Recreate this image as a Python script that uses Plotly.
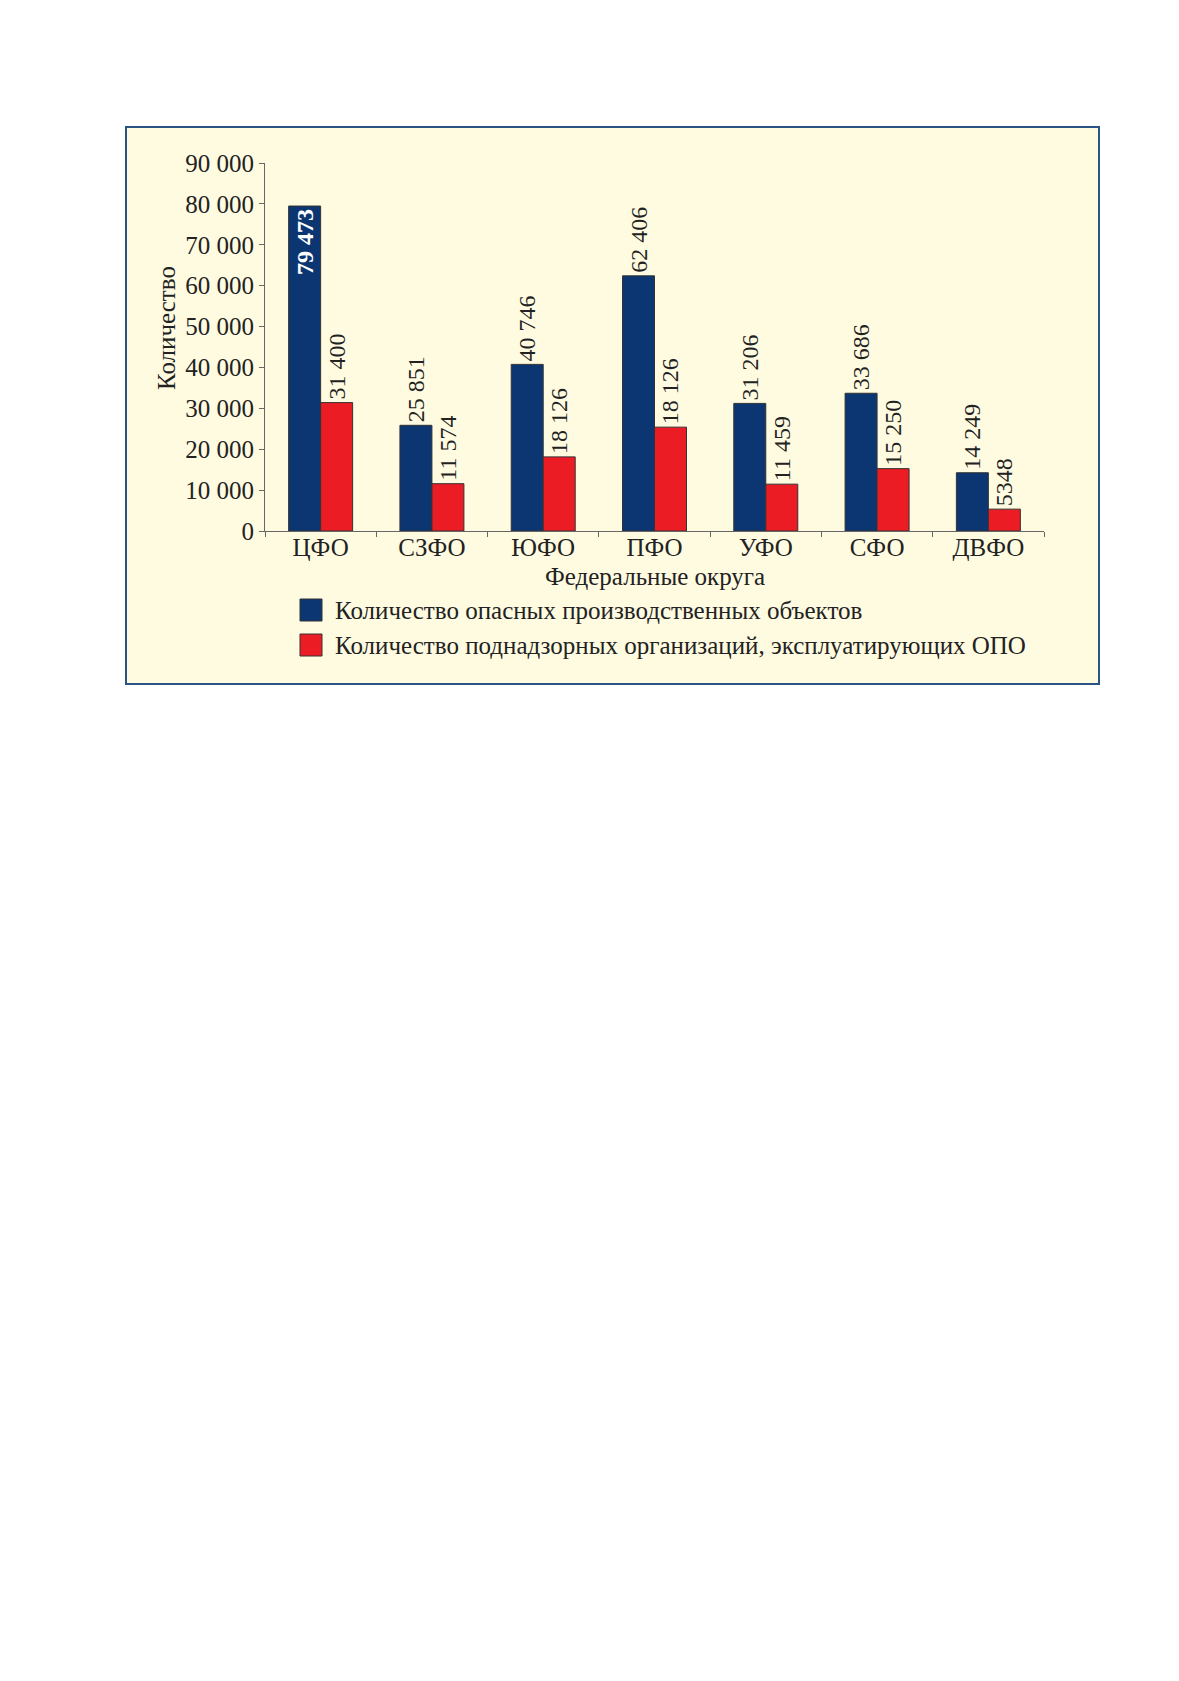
import plotly.graph_objects as go

districts = ["ЦФО", "СЗФО", "ЮФО", "ПФО", "УФО", "СФО", "ДВФО"]

objects = [79473, 25851, 40746, 62406, 31206, 33686, 14249]
orgs = [31400, 11574, 18126, 25400, 11459, 15250, 5348]

# labels as printed on the chart (ПФО red label repeats 18 126 in the source)
objects_labels = ["79 473", "25 851", "40 746", "62 406", "31 206", "33 686", "14 249"]
orgs_labels = ["31 400", "11 574", "18 126", "18 126", "11 459", "15 250", "5348"]

name_objects = "Количество опасных производственных объектов"
name_orgs = "Количество поднадзорных организаций, эксплуатирующих ОПО"

blue = "#0b3672"
red = "#ec1c24"
font = "Liberation Serif"

# plot area in pixels
L, R, T, B = 257, 1036, 155, 523
W, H = 1179, 1681


def px(x):
    return (x - L) / (R - L)


def py(y):
    return (B - y) / (B - T)


fig = go.Figure()
fig.add_trace(go.Bar(
    x=districts, y=objects, name=name_objects,
    marker=dict(color=blue, line=dict(color="#333333", width=1)),
    text=objects_labels, textangle=-90,
    textposition=["inside"] + ["outside"] * 6,
    insidetextanchor="end",
    insidetextfont=dict(family=font, size=24, color="white", weight="bold"),
    outsidetextfont=dict(family=font, size=24, color="#222222"),
    constraintext="none", cliponaxis=False,
))
fig.add_trace(go.Bar(
    x=districts, y=orgs, name=name_orgs,
    marker=dict(color=red, line=dict(color="#333333", width=1)),
    text=orgs_labels, textangle=-90, textposition="outside",
    outsidetextfont=dict(family=font, size=24, color="#222222"),
    constraintext="none", cliponaxis=False,
))

# frame
fig.add_shape(type="rect", xref="paper", yref="paper", layer="below",
              x0=px(118), x1=px(1091), y0=py(676), y1=py(119),
              fillcolor="#fffbe1", line=dict(color="#2b5486", width=2))

# legend drawn by hand (large squares)
for i, (nm, col) in enumerate([(name_objects, blue), (name_orgs, red)]):
    cy = 602 + i * 35
    fig.add_shape(type="rect", xref="paper", yref="paper",
                  x0=px(292), x1=px(314), y0=py(cy + 11), y1=py(cy - 11),
                  fillcolor=col, line=dict(color="#333333", width=1))
    fig.add_annotation(xref="paper", yref="paper", x=px(325), y=py(cy),
                       text=nm, showarrow=False, xanchor="left", yanchor="middle",
                       font=dict(family=font, size=25, color="#222222"))

fig.add_annotation(xref="paper", yref="paper", x=px(158), y=py(320),
                   text="Количество", textangle=-90, showarrow=False,
                   xanchor="center", yanchor="middle",
                   font=dict(family=font, size=25, color="#222222"))
fig.add_annotation(xref="paper", yref="paper", x=0.5, y=py(568),
                   text="Федеральные округа", showarrow=False,
                   xanchor="center", yanchor="middle",
                   font=dict(family=font, size=25, color="#222222"))

fig.update_layout(
    width=W, height=H,
    margin=dict(l=L, r=W - R, t=T, b=H - B),
    paper_bgcolor="white", plot_bgcolor="rgba(0,0,0,0)",
    barmode="group", bargap=0.425, bargroupgap=0,
    showlegend=False,
    font=dict(family=font, size=24, color="#222222"),
    separators=", ",
)
fig.update_xaxes(
    showline=True, linecolor="#666666", linewidth=1,
    ticks="outside", tickson="boundaries", ticklen=5, tickcolor="#666666",
    ticklabelstandoff=-6,
    tickfont=dict(family=font, size=25, color="#222222"),
    showgrid=False,
)
fig.update_yaxes(
    range=[0, 90000], dtick=10000, tickformat=",d",
    showline=True, linecolor="#666666", linewidth=1,
    ticks="outside", ticklen=5, tickcolor="#666666",
    tickfont=dict(family=font, size=25, color="#222222"),
    showgrid=False, zeroline=False,
)

fig.write_html("out.html")
